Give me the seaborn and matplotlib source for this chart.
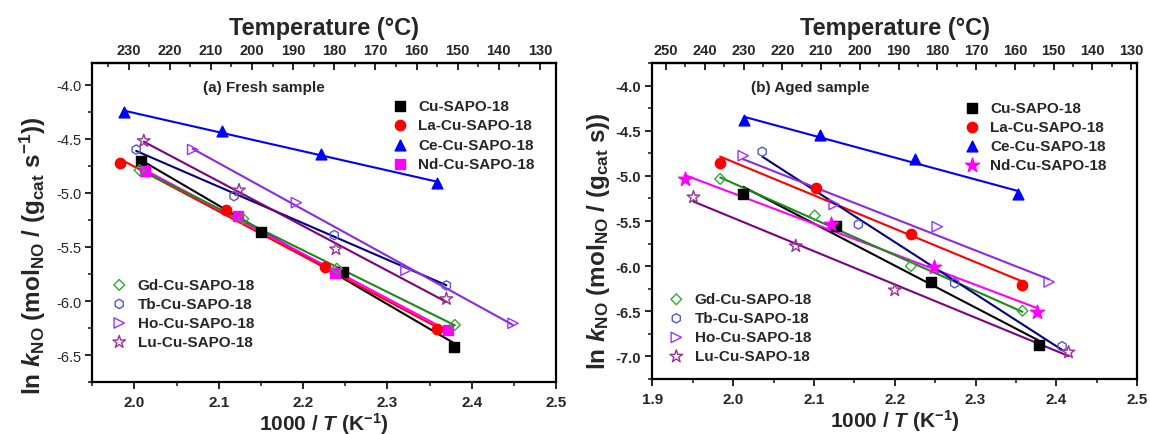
import numpy as np
import pandas as pd
import seaborn as sns
import matplotlib
matplotlib.use("Agg")
import matplotlib.pyplot as plt
from matplotlib.ticker import MultipleLocator, FixedLocator, FormatStrFormatter

# ---------------- data ----------------
series_names = ["Cu-SAPO-18", "La-Cu-SAPO-18", "Ce-Cu-SAPO-18", "Nd-Cu-SAPO-18",
                "Gd-Cu-SAPO-18", "Tb-Cu-SAPO-18", "Ho-Cu-SAPO-18", "Lu-Cu-SAPO-18"]

# (a) fresh samples: 1000/T and ln k
fresh_cu_x = [2.008, 2.150, 2.247, 2.379]
fresh_cu_y = [-4.71, -5.36, -5.73, -6.42]
fresh_la_x = [1.983, 2.108, 2.226, 2.359]
fresh_la_y = [-4.72, -5.16, -5.685, -6.26]
fresh_ce_x = [1.987, 2.104, 2.221, 2.359]
fresh_ce_y = [-4.255, -4.43, -4.64, -4.91]
fresh_nd_x = [2.012, 2.123, 2.238, 2.372]
fresh_nd_y = [-4.80, -5.215, -5.74, -6.27]
fresh_gd_x = [2.006, 2.129, 2.240, 2.380]
fresh_gd_y = [-4.79, -5.24, -5.70, -6.22]
fresh_tb_x = [2.002, 2.118, 2.237, 2.370]
fresh_tb_y = [-4.60, -5.03, -5.39, -5.855]
fresh_ho_x = [2.069, 2.192, 2.322, 2.449]
fresh_ho_y = [-4.60, -5.09, -5.715, -6.205]
fresh_lu_x = [2.011, 2.124, 2.239, 2.370]
fresh_lu_y = [-4.52, -4.975, -5.52, -5.98]

# (b) aged samples
aged_cu_x = [2.0125, 2.127, 2.245, 2.378]
aged_cu_y = [-5.20, -5.55, -6.18, -6.87]
aged_la_x = [1.984, 2.102, 2.220, 2.3575]
aged_la_y = [-4.857, -5.13, -5.64, -6.21]
aged_ce_x = [2.014, 2.1075, 2.2255, 2.3525]
aged_ce_y = [-4.386, -4.544, -4.81, -5.206]
aged_nd_x = [1.940, 2.121, 2.248, 2.376]
aged_nd_y = [-5.033, -5.538, -6.009, -6.505]
aged_gd_x = [1.984, 2.101, 2.220, 2.358]
aged_gd_y = [-5.033, -5.438, -5.998, -6.494]
aged_tb_x = [2.036, 2.155, 2.274, 2.407]
aged_tb_y = [-4.732, -5.538, -6.189, -6.888]
aged_ho_x = [2.0125, 2.125, 2.2525, 2.391]
aged_ho_y = [-4.776, -5.317, -5.563, -6.175]
aged_lu_x = [1.951, 2.0775, 2.200, 2.415]
aged_lu_y = [-5.236, -5.777, -6.266, -6.954]

fresh_x = [fresh_cu_x, fresh_la_x, fresh_ce_x, fresh_nd_x, fresh_gd_x, fresh_tb_x, fresh_ho_x, fresh_lu_x]
fresh_y = [fresh_cu_y, fresh_la_y, fresh_ce_y, fresh_nd_y, fresh_gd_y, fresh_tb_y, fresh_ho_y, fresh_lu_y]
aged_x = [aged_cu_x, aged_la_x, aged_ce_x, aged_nd_x, aged_gd_x, aged_tb_x, aged_ho_x, aged_lu_x]
aged_y = [aged_cu_y, aged_la_y, aged_ce_y, aged_nd_y, aged_gd_y, aged_tb_y, aged_ho_y, aged_lu_y]

fresh_temp_ticks = [230, 220, 210, 200, 190, 180, 170, 160, 150, 140, 130]
aged_temp_ticks = [250, 240, 230, 220, 210, 200, 190, 180, 170, 160, 150, 140, 130]
# top-axis calibration (temperature scale is drawn linearly in the reference)
fresh_temp_ends = (230, 1.993, 130, 2.481)
aged_temp_ends = (250, 1.917, 130, 2.4925)

# ---------------- styles ----------------
line_colors = ["#000000", "#ff0000", "#0000ff", "#ff00ff", "#1a8a1a", "#000080", "#8a2be2", "#800080"]
marker_colors = ["#000000", "#ff0000", "#0000ff", "#ff00ff", "#33aa33", "#5555cc", "#9933ff", "#993399"]
filled = [True, True, True, True, False, False, False, False]
markers_fresh = ["s", "o", "^", "s", "D", "h", ">", "*"]
markers_aged = ["s", "o", "^", "*", "D", "h", ">", "*"]
msize = [45, 55, 60, 45, 30, 45, 55, 90]
msize_aged = [45, 55, 60, 110, 30, 45, 55, 90]

sns.set_theme(style="ticks")
plt.rcParams.update({
    "font.family": ["Liberation Sans", "DejaVu Sans"],
    "axes.unicode_minus": False,
    "mathtext.fontset": "custom",
    "mathtext.rm": "Liberation Sans:bold",
    "mathtext.it": "Liberation Sans:bold:italic",
    "mathtext.bf": "Liberation Sans:bold",
    "mathtext.default": "rm",
    "axes.linewidth": 1.6,
})

fig = plt.figure(figsize=(11.5, 4.35), dpi=100)
ax1 = fig.add_axes([0.0803, 0.1189, 0.4032, 0.734])
ax2 = fig.add_axes([0.5672, 0.1264, 0.4217, 0.7264])


def make_temp_funcs(ends):
    t0, x0, t1, x1 = ends
    slope = (t1 - t0) / (x1 - x0)

    def fwd(x):
        return t0 + (np.asarray(x, dtype=float) - x0) * slope

    def inv(t):
        return x0 + (np.asarray(t, dtype=float) - t0) / slope
    return fwd, inv


def draw_panel(ax, xs, ys, mks, sizes, xlim, ylim, temp_ticks, temp_ends, title,
               ylabel, ylabel_xy, title_pos, leg1_anchor, leg2_anchor, ytick_bold):
    for i, name in enumerate(series_names):
        df = pd.DataFrame({"x": xs[i], "y": ys[i]})
        sns.regplot(data=df, x="x", y="y", ax=ax, scatter=False, ci=None,
                    color=line_colors[i], line_kws={"lw": 1.5}, truncate=True)
        fc = marker_colors[i] if filled[i] else "none"
        sns.scatterplot(data=df, x="x", y="y", ax=ax, marker=mks[i], s=sizes[i],
                        facecolors=fc, edgecolors=marker_colors[i], color=marker_colors[i],
                        linewidths=1.0, label=name, zorder=5)
    ax.set_xlim(*xlim)
    ax.set_ylim(*ylim)
    ax.xaxis.set_major_locator(MultipleLocator(0.1))
    ax.xaxis.set_minor_locator(MultipleLocator(0.05))
    ax.yaxis.set_major_locator(MultipleLocator(0.5))
    ax.yaxis.set_minor_locator(MultipleLocator(0.25))
    ax.tick_params(axis="both", which="major", direction="out", length=5, width=1.4,
                   top=False, right=False, labelsize=10.5, pad=3)
    ax.tick_params(axis="both", which="minor", direction="out", length=3, width=1.2,
                   top=False, right=False)
    ax.tick_params(axis="x", which="major", labelsize=11, pad=4)
    ax.yaxis.set_major_formatter(FormatStrFormatter("%.1f"))
    ax.xaxis.set_major_formatter(FormatStrFormatter("%.1f"))
    for lab in ax.get_xticklabels():
        lab.set_fontweight("bold")
    for lab in ax.get_yticklabels():
        lab.set_fontweight("bold" if ytick_bold else "normal")
    ax.set_xlabel(r"1000 / $\mathit{T}$ (K$^{-1}$)", fontsize=15, fontweight="bold", labelpad=1)
    ax.set_ylabel(ylabel, fontsize=17.5, fontweight="bold")
    ax.yaxis.set_label_coords(*ylabel_xy)
    for sp in ax.spines.values():
        sp.set_visible(True)
        sp.set_linewidth(1.6)
        sp.set_color("black")

    fwd, inv = make_temp_funcs(temp_ends)
    sec = ax.secondary_xaxis("top", functions=(fwd, inv))
    sec.xaxis.set_major_locator(FixedLocator(temp_ticks))
    sec.xaxis.set_minor_locator(FixedLocator([t + 5 for t in temp_ticks]))
    sec.tick_params(axis="x", which="major", direction="in", length=5, width=1.4,
                    labelsize=10.5, pad=4)
    sec.tick_params(axis="x", which="minor", direction="in", length=3, width=1.2)
    sec.spines["top"].set_linewidth(1.6)
    for lab in sec.get_xticklabels():
        lab.set_fontweight("bold")
    sec.set_xlabel("Temperature (\u00b0C)", fontsize=17, fontweight="bold", labelpad=7)

    ax.text(title_pos[0], title_pos[1], title, transform=ax.transAxes, ha="center",
            va="center", fontsize=11, fontweight="bold")

    handles, labels = ax.get_legend_handles_labels()
    if ax.get_legend() is not None:
        ax.get_legend().remove()
    leg_kw = dict(frameon=False, prop={"weight": "bold", "size": 11},
                  handletextpad=0.6, labelspacing=0.33, borderaxespad=0, handlelength=1.2)
    leg1 = ax.legend(handles[:4], labels[:4], loc="upper left", bbox_to_anchor=leg1_anchor, **leg_kw)
    ax.add_artist(leg1)
    ax.legend(handles[4:], labels[4:], loc="lower left", bbox_to_anchor=leg2_anchor, **leg_kw)


ylabel_a = r"ln $\mathit{k}_{NO}$ (mol$_{NO}$ / (g$_{cat}$ s$^{-1}$))"
ylabel_b = r"ln $\mathit{k}_{NO}$ (mol$_{NO}$ / (g$_{cat}$ s))"

draw_panel(ax1, fresh_x, fresh_y, markers_fresh, msize, (1.95, 2.5), (-6.75, -3.8),
           fresh_temp_ticks, fresh_temp_ends, "(a) Fresh sample", ylabel_a, (-0.095, 0.40),
           (0.37, 0.925), (0.63, 0.905), (0.025, 0.085), False)
draw_panel(ax2, aged_x, aged_y, markers_aged, msize_aged, (1.9, 2.5), (-7.25, -3.75),
           aged_temp_ticks, aged_temp_ends, "(b) Aged sample", ylabel_b, (-0.083, 0.44),
           (0.326, 0.924), (0.628, 0.9), (0.018, 0.03), True)

fig.savefig("out.png", dpi=100)
